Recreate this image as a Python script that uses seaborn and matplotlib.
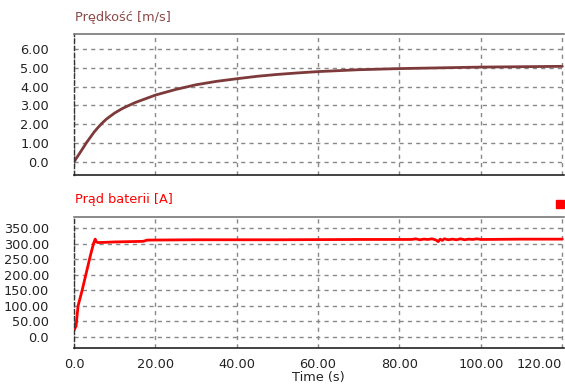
import matplotlib
matplotlib.use("Agg")
import matplotlib.pyplot as plt
import seaborn as sns
import pandas as pd
from matplotlib.patches import Rectangle

# ---- data ----
t_speed = [0, 1, 2, 3, 4, 5, 6, 7, 8, 10, 12, 15, 20, 25, 30, 35, 40, 45, 50,
           55, 60, 70, 80, 90, 100, 110, 120]
speed = [0.0, 0.33, 0.66, 1.0, 1.3, 1.6, 1.85, 2.08, 2.28, 2.6, 2.85, 3.15,
         3.55, 3.85, 4.1, 4.28, 4.42, 4.55, 4.65, 4.73, 4.8, 4.9, 4.96, 5.0,
         5.04, 5.06, 5.08]

t_current = [0, 0.5, 1.0, 2, 3, 4, 4.8, 5.2, 5.5, 6, 10, 17, 18, 30, 50, 70,
             83, 84, 85, 86, 87, 88, 89, 89.5, 90, 90.5, 91, 92, 93, 94, 95,
             96, 97, 98, 99, 100, 101, 110, 120]
current = [22, 35, 100, 150, 205, 260, 300, 314, 305, 303, 305, 307, 311,
           312, 312, 313, 313, 315, 312, 314, 313, 315, 311, 306, 314, 310,
           315, 312, 314, 312, 315, 312, 314, 313, 315, 313, 313, 314, 314]

speed_ticks = [0, 1, 2, 3, 4, 5, 6]
speed_labels = ["0.0", "1.00", "2.00", "3.00", "4.00", "5.00", "6.00"]
cur_ticks = [0, 50, 100, 150, 200, 250, 300, 350]
cur_labels = ["0.0", "50.00", "100.00", "150.00", "200.00", "250.00",
              "300.00", "350.00"]
x_ticks = [0, 20, 40, 60, 80, 100, 120]
x_labels = ["0.0", "20.00", "40.00", "60.00", "80.00", "100.00", "120.00"]

df_speed = pd.DataFrame({"t": t_speed, "v": speed})
df_cur = pd.DataFrame({"t": t_current, "i": current})

sns.set_style("white")
plt.rcParams["font.family"] = ["DejaVu Sans"]
FS = 9.3

fig = plt.figure(figsize=(5.65, 3.85), dpi=100)
ax1 = fig.add_axes([74 / 565, 1 - 175 / 385, 1 - 74 / 565 - 0.002, (175 - 34) / 385])
ax2 = fig.add_axes([74 / 565, 1 - 348 / 385, 1 - 74 / 565 - 0.002, (348 - 217) / 385])

sns.lineplot(data=df_speed, x="t", y="v", ax=ax1, color="#7e3a3a", lw=2.0)
sns.lineplot(data=df_cur, x="t", y="i", ax=ax2, color="#ff0000", lw=2.0)

for ax, ticks, labels, ylim in [
    (ax1, speed_ticks, speed_labels, (-0.7, 6.8)),
    (ax2, cur_ticks, cur_labels, (-35, 385)),
]:
    ax.set_xlim(0, 120.4)
    ax.set_ylim(*ylim)
    ax.set_yticks(ticks)
    ax.set_yticklabels(labels)
    ax.set_xticks(x_ticks)
    ax.set_xlabel("")
    ax.set_ylabel("")
    ax.grid(True, color="#888888", linestyle=(0, (3, 3)), linewidth=1.0)
    ax.tick_params(axis="y", length=0, pad=18, labelsize=FS, labelcolor="#222222")
    ax.tick_params(axis="x", length=0, pad=7, labelsize=FS, labelcolor="#222222")
    ax.spines["top"].set_color("#777777")
    ax.spines["top"].set_linewidth(1.2)
    ax.spines["bottom"].set_color("#222222")
    ax.spines["bottom"].set_linewidth(1.2)
    ax.spines["left"].set_color("#333333")
    ax.spines["left"].set_linestyle((0, (3, 2)))
    ax.spines["left"].set_linewidth(1.0)
    ax.spines["right"].set_visible(False)
    for lab in ax.get_yticklabels():
        lab.set_horizontalalignment("right")

ax1.set_xticklabels([])
ax2.set_xticklabels(x_labels)
ax2.get_xticklabels()[-1].set_horizontalalignment("right")

fig.text(75 / 565, 1 - 18 / 385, "Prędkość [m/s]", color="#8c4848",
         fontsize=FS, va="center", ha="left")
fig.text(75 / 565, 1 - 200 / 385, "Prąd baterii [A]", color="#ff0000",
         fontsize=FS, va="center", ha="left")
fig.text(318 / 565, 1 - 377 / 385, "Time (s)", color="#222222",
         fontsize=FS, va="center", ha="center")
fig.add_artist(Rectangle((556 / 565, 1 - 208 / 385), 8 / 565, 8 / 385,
                         transform=fig.transFigure, color="#ff0000"))

fig.savefig("out.png", dpi=100)
